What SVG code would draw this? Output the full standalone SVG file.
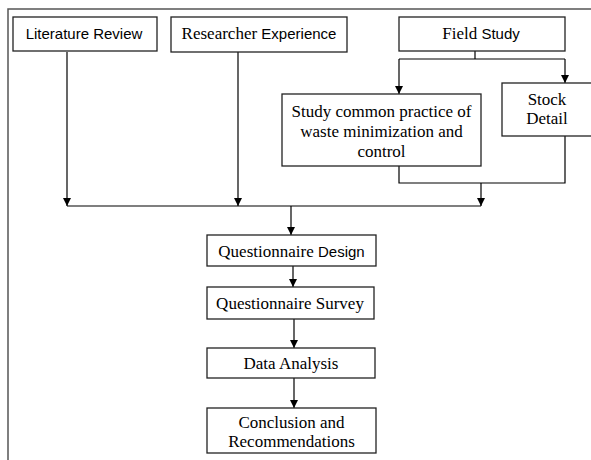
<svg xmlns="http://www.w3.org/2000/svg" width="591" height="460" viewBox="0 0 591 460">
<defs>
<marker id="ah" viewBox="0 0 10 10" refX="10" refY="5" markerWidth="9" markerHeight="8" markerUnits="userSpaceOnUse" orient="auto">
<path d="M0,0 L10,5 L0,10 z" fill="#000"/>
</marker>
<style>
.box{fill:#fff;stroke:#222;stroke-width:1.3}
.t{font-family:"Liberation Serif","Times New Roman",serif;font-size:17px;fill:#000;text-anchor:middle}
.s{font-family:"Liberation Sans",Arial,sans-serif;font-size:15px}
.c{fill:none;stroke:#000;stroke-width:1.2}
.a{marker-end:url(#ah)}
</style>
</defs>
<rect width="591" height="460" fill="#fff"/>
<path d="M8,470 V9 H600" fill="none" stroke="#555" stroke-width="1.5"/>
<g id="connectors">
<path class="c a" d="M67,52 V206"/>
<path class="c a" d="M238,52 V206"/>
<path class="c" d="M475,51 V59 M399,59 H565"/>
<path class="c a" d="M399,59 V94"/>
<path class="c a" d="M565,59 V83"/>
<path class="c" d="M399,166 V183 H565 V136"/>
<path class="c a" d="M481,183 V206"/>
<path class="c" d="M67,206 H481"/>
<path class="c a" d="M291,206 V235"/>
<path class="c a" d="M293,266 V287"/>
<path class="c a" d="M294,319 V348"/>
<path class="c a" d="M294,378 V408"/>
</g>
<g id="literature-review">
<rect class="box" x="13" y="17" width="144" height="34"/>
<text class="t s" x="84" y="39">Literature Review</text>
</g>
<g id="researcher-experience">
<rect class="box" x="171" y="17" width="176" height="35"/>
<text class="t" x="259" y="39">Researcher <tspan class="s">Experience</tspan></text>
</g>
<g id="field-study">
<rect class="box" x="399" y="17" width="166" height="34"/>
<text class="t" x="481" y="39">Field <tspan class="s">Study</tspan></text>
</g>
<g id="study-common-practice">
<rect class="box" x="282" y="94" width="199" height="72"/>
<text class="t" x="381.5" y="117">Study common practice of</text>
<text class="t" x="381.5" y="137">waste minimization and</text>
<text class="t" x="381.5" y="157">control</text>
</g>
<g id="stock-detail">
<rect class="box" x="502" y="83" width="92" height="53"/>
<text class="t" x="547" y="105">Stock</text>
<text class="t" x="547" y="124">Detail</text>
</g>
<g id="questionnaire-design">
<rect class="box" x="207" y="235" width="169" height="31"/>
<text class="t" x="291.5" y="256.5">Questionnaire <tspan class="s">Design</tspan></text>
</g>
<g id="questionnaire-survey">
<rect class="box" x="207" y="287" width="167" height="32"/>
<text class="t" x="290" y="308.5">Questionnaire Survey</text>
</g>
<g id="data-analysis">
<rect class="box" x="207" y="348" width="168" height="30"/>
<text class="t" x="291" y="368.5">Data Analysis</text>
</g>
<g id="conclusion">
<rect class="box" x="207" y="408" width="169" height="45"/>
<text class="t" x="291.5" y="428">Conclusion and</text>
<text class="t" x="291.5" y="447">Recommendations</text>
</g>
</svg>
